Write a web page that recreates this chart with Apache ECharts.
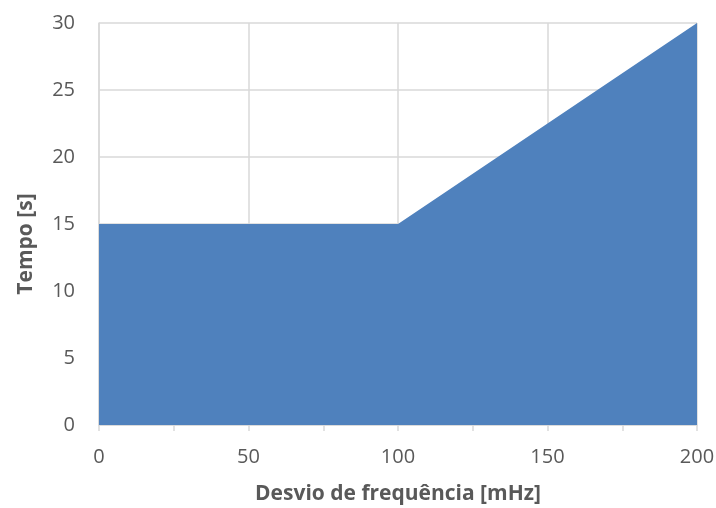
<!DOCTYPE html>
<html><head><meta charset="utf-8">
<script src="https://cdn.jsdelivr.net/npm/echarts@6/dist/echarts.min.js"></script>
<style>html,body{margin:0;padding:0;background:#fff}#c{width:716px;height:508px}</style>
</head><body><div id="c"></div>
<script>
const xValues = [0, 100, 200];
const yValues = [15, 15, 30];
const xName = 'Desvio de frequência [mHz]';
const yName = 'Tempo [s]';
const font = 'Open Sans';
const chart = echarts.init(document.getElementById('c'));
chart.setOption({
  animation: false,
  grid: {left: 99, right: 19, top: 23, bottom: 83, outerBoundsMode: 'none', containLabel: false},
  xAxis: {
    type: 'value', min: 0, max: 200, interval: 50,
    name: xName, nameLocation: 'middle', nameGap: 59,
    nameTextStyle: {fontFamily: font, fontSize: 21, fontWeight: 'bold', color: '#595959'},
    axisLine: {show: true, lineStyle: {color: '#d9d9d9', width: 1.5}},
    axisTick: {show: true, length: 6, lineStyle: {color: '#d9d9d9', width: 1.5}},
    minorTick: {show: true, splitNumber: 2, length: 6, lineStyle: {color: '#d9d9d9', width: 1.5}},
    axisLabel: {fontFamily: font, fontSize: 20, color: '#595959', margin: 22},
    splitLine: {show: true, lineStyle: {color: '#d9d9d9', width: 1.5}}
  },
  yAxis: {
    type: 'value', min: 0, max: 30, interval: 5,
    name: yName, nameLocation: 'middle', nameGap: 62, nameRotate: 90,
    nameTextStyle: {fontFamily: font, fontSize: 21, fontWeight: 'bold', color: '#595959', padding: [0, 40, 0, 0]},
    axisLine: {show: true, lineStyle: {color: '#d9d9d9', width: 1.5}},
    axisTick: {show: false},
    axisLabel: {fontFamily: font, fontSize: 20, color: '#595959', margin: 24},
    splitLine: {show: true, lineStyle: {color: '#d9d9d9', width: 1.5}}
  },
  series: [{
    type: 'line',
    data: xValues.map((x, i) => [x, yValues[i]]),
    symbol: 'none',
    lineStyle: {width: 0},
    areaStyle: {color: '#4f81bd', opacity: 1}
  }]
});
</script></body></html>
